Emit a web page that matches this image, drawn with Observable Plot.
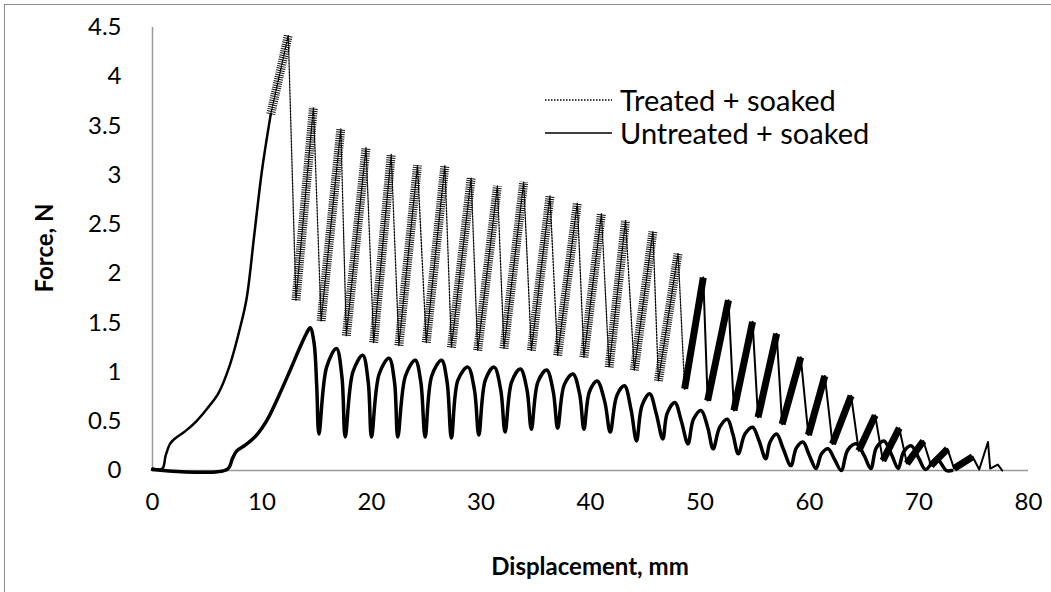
<!DOCTYPE html>
<html>
<head>
<meta charset="utf-8">
<script src="https://cdn.jsdelivr.net/npm/d3@7"></script>
<script src="https://cdn.jsdelivr.net/npm/@observablehq/plot@0.6"></script>
<style>
  html, body { margin: 0; padding: 0; background: #fff; }
  #wrap { position: relative; width: 1051px; height: 592px; overflow: hidden; background: #fff; font-family: Lato, "Open Sans", sans-serif; }
  #border { position: absolute; left: 4px; top: 4px; width: 1200px; height: 800px; border-left: 1.5px solid #8c8c8c; border-top: 1.5px solid #8c8c8c; }
  #chart { position: absolute; left: 0; top: 0; }
  .title { position: absolute; font-weight: bold; font-size: 24px; color: #000; white-space: nowrap; }
  #xtitle { left: 590px; top: 565px; transform: translate(-50%, -50%); }
  #ytitle { left: 43px; top: 248px; transform: translate(-50%, -50%) rotate(-90deg); }
  #legend { position: absolute; left: 545px; top: 83px; font-size: 29px; color: #000; }
  #legend .row { display: flex; align-items: center; height: 33px; white-space: nowrap; }
  #legend svg { margin-right: 8px; }
</style>
</head>
<body>
<div id="wrap">
  <div id="border"></div>
  <div id="chart"></div>
  <div class="title" id="xtitle">Displacement, mm</div>
  <div class="title" id="ytitle">Force, N</div>
  <div id="legend"></div>
</div>
<script>
// ---- Data ----
const xTicks = [0, 10, 20, 30, 40, 50, 60, 70, 80];
const yTicks = [0, 0.5, 1, 1.5, 2, 2.5, 3, 3.5, 4, 4.5];
const seriesNames = ["Treated + soaked", "Untreated + soaked"];

// Treated + soaked: initial loading ramp
const treatedRamp = [
  [0, 0.02], [0.9, 0.02], [1.2, 0.15], [1.6, 0.27], [2.0, 0.32], [3.0, 0.40],
  [4.0, 0.50], [5.0, 0.63], [6.0, 0.78], [7.0, 1.05], [8.0, 1.45], [8.6, 1.75],
  [9.3, 2.40], [10.0, 3.05], [10.8, 3.62]
];
// Treated + soaked: sawtooth peaks and troughs
const treatedPeaks = [
  [12.4, 4.42], [14.7, 3.69], [17.2, 3.47], [19.5, 3.28], [21.8, 3.21], [24.2, 3.10],
  [26.7, 3.10], [29.1, 2.97], [31.5, 2.89], [33.9, 2.93], [36.3, 2.79], [38.8, 2.72],
  [41.0, 2.61], [43.2, 2.54], [45.7, 2.43], [48.0, 2.21], [50.3, 1.96], [52.6, 1.73],
  [54.8, 1.51], [57.0, 1.39], [59.2, 1.15], [61.4, 0.96], [63.8, 0.76], [66.0, 0.56],
  [68.2, 0.43], [70.4, 0.30], [72.6, 0.22], [74.9, 0.14], [76.3, 0.29]
];
const treatedTroughs = [
  [13.1, 1.73], [15.4, 1.52], [17.7, 1.37], [20.2, 1.30], [22.5, 1.27], [25.0, 1.30],
  [27.3, 1.25], [29.7, 1.22], [32.1, 1.24], [34.6, 1.22], [37.0, 1.17], [39.4, 1.15],
  [41.7, 1.05], [44.0, 1.02], [46.2, 0.91], [48.6, 0.83], [50.7, 0.71], [53.1, 0.61],
  [55.3, 0.54], [57.5, 0.47], [59.9, 0.36], [62.1, 0.27], [64.5, 0.20], [66.7, 0.10],
  [68.9, 0.07], [71.1, 0.05], [73.2, 0.02], [75.5, 0.01], [76.5, 0.02]
];
const treatedTail = [[77.2, 0.06], [77.6, 0.0]];

// Untreated + soaked
const untreated = [
  [0, 0.01], [6.8, 0.01], [7.3, 0.12], [7.7, 0.20], [8.5, 0.26], [9.5, 0.36], [10.5, 0.52],
  [11.5, 0.75], [12.5, 1.00], [13.5, 1.26], [14.1, 1.40], [14.4, 1.45], [14.75, 1.30], [15.0, 0.85],
  [15.2, 0.37], [15.9, 1.05], [16.8, 1.24], [17.3, 0.95],
  [17.6, 0.34], [18.3, 1.00], [19.2, 1.17], [19.7, 0.90],
  [20.0, 0.34], [20.7, 0.98], [21.6, 1.14], [22.1, 0.90],
  [22.4, 0.34], [23.1, 0.96], [24.0, 1.12], [24.5, 0.90],
  [24.9, 0.34], [25.5, 0.96], [26.4, 1.12], [26.9, 0.90],
  [27.3, 0.33], [27.9, 0.92], [28.8, 1.05], [29.4, 0.82],
  [29.8, 0.36], [30.4, 0.92], [31.2, 1.05], [31.8, 0.82],
  [32.2, 0.39], [32.8, 0.90], [33.6, 1.03], [34.2, 0.82],
  [34.6, 0.42], [35.2, 0.90], [36.0, 1.02], [36.6, 0.80],
  [37.0, 0.43], [37.6, 0.87], [38.4, 0.98], [39.0, 0.78],
  [39.4, 0.42], [39.9, 0.80], [40.6, 0.91], [41.3, 0.70],
  [41.8, 0.39], [42.4, 0.76], [43.1, 0.86], [43.7, 0.62],
  [44.2, 0.30], [44.7, 0.66], [45.4, 0.78], [46.0, 0.58],
  [46.6, 0.32], [47.0, 0.58], [47.7, 0.69], [48.3, 0.50],
  [48.9, 0.27], [49.4, 0.52], [50.1, 0.61], [50.7, 0.44],
  [51.2, 0.22], [51.8, 0.44], [52.5, 0.52], [53.0, 0.37],
  [53.5, 0.17], [54.1, 0.37], [54.8, 0.44], [55.4, 0.30],
  [56.0, 0.12], [56.4, 0.29], [57.0, 0.37], [57.6, 0.22],
  [58.3, 0.05], [58.8, 0.23], [59.4, 0.29], [60.0, 0.15],
  [60.6, 0.02], [61.1, 0.17], [61.7, 0.22], [62.3, 0.11],
  [62.9, 0.00], [63.5, 0.21], [64.3, 0.27], [65.0, 0.15],
  [65.6, 0.02], [66.1, 0.23], [66.8, 0.30], [67.5, 0.16],
  [68.1, 0.02], [68.6, 0.19], [69.3, 0.25], [70.0, 0.12],
  [70.6, 0.01], [71.6, 0.12], [72.5, 0.00], [73.0, 0.00]
];

// ---- Build structures for Plot ----
const rampEnd = treatedRamp[treatedRamp.length - 1];
const zig = [rampEnd];
treatedPeaks.forEach((p, i) => { zig.push(p); if (treatedTroughs[i]) zig.push(treatedTroughs[i]); });
treatedTail.forEach(p => zig.push(p));
const split = treatedTroughs[15][0];
const zigEarly = zig.filter(p => p[0] <= split);
const zigLate = zig.filter(p => p[0] >= split);

const bands = [{x1: rampEnd[0], y1: rampEnd[1], x2: treatedPeaks[0][0], y2: treatedPeaks[0][1]}];
for (let i = 0; i < treatedPeaks.length - 2; i++) {
  bands.push({x1: treatedTroughs[i][0], y1: treatedTroughs[i][1], x2: treatedPeaks[i + 1][0], y2: treatedPeaks[i + 1][1]});
}
const bandsEarly = bands.filter(b => b.x2 < split);
const bandsLate = bands.filter(b => b.x2 >= split);

const chart = Plot.plot({
  width: 1051,
  height: 592,
  marginLeft: 152,
  marginRight: 23,
  marginTop: 27,
  marginBottom: 122,
  style: { fontFamily: "Lato, 'Open Sans', sans-serif", fontSize: "24px", background: "transparent", color: "#000" },
  x: { domain: [0, 80] },
  y: { domain: [0, 4.5] },
  marks: [
    Plot.axisX(xTicks, { tickSize: 0, tickPadding: 22, fontSize: 24, label: null, tickFormat: d => String(d) }),
    Plot.axisY(yTicks, { tickSize: 0, tickPadding: 31, fontSize: 24, label: null, tickFormat: d => String(d) }),
    Plot.ruleX([0], { stroke: "#9a9a9a", strokeWidth: 1.5 }),
    Plot.ruleY([0], { stroke: "#9a9a9a", strokeWidth: 1.5 }),
    // Untreated
    Plot.line(untreated, { x: d => d[0], y: d => d[1], stroke: "#000", strokeWidth: 3.5, curve: "catmull-rom" }),
    // Treated ramp
    Plot.line(treatedRamp, { x: d => d[0], y: d => d[1], stroke: "#000", strokeWidth: 2.5, curve: "catmull-rom" }),
    // Treated noisy rising bands
    Plot.link(bandsEarly, { x1: "x1", y1: "y1", x2: "x2", y2: "y2", stroke: "#111", strokeWidth: 9, strokeDasharray: "1,1.2", strokeLinecap: "butt" }),
    Plot.link(bandsLate, { x1: "x1", y1: "y1", x2: "x2", y2: "y2", stroke: "#000", strokeWidth: 7, strokeLinecap: "butt" }),
    // Treated zigzag (drops)
    Plot.line(zigEarly, { x: d => d[0], y: d => d[1], stroke: "#000", strokeWidth: 1.3, strokeDasharray: "1.5,1.5" }),
    Plot.line(zigLate, { x: d => d[0], y: d => d[1], stroke: "#000", strokeWidth: 2 })
  ]
});
document.getElementById("chart").appendChild(chart);

// Legend
const legend = document.getElementById("legend");
const styles = [{ dash: "1.5,1.5", w: 1.3 }, { dash: null, w: 1.5 }];
seriesNames.forEach((name, i) => {
  const row = document.createElement("div");
  row.className = "row";
  const s = styles[i];
  row.innerHTML = `<svg width="67" height="10"><line x1="0" x2="67" y1="5" y2="5" stroke="#000" stroke-width="${s.w}" ${s.dash ? `stroke-dasharray="${s.dash}"` : ""}/></svg><span>${name}</span>`;
  legend.appendChild(row);
});
</script>
</body>
</html>
